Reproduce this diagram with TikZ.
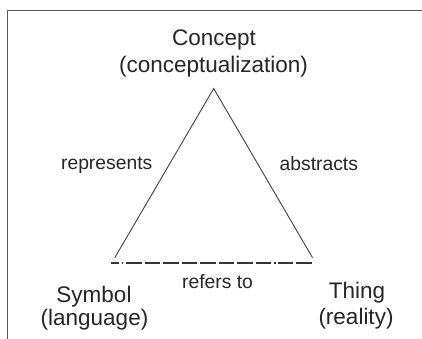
\documentclass[tikz,border=0pt]{standalone}
\usepackage{fontspec}
\setmainfont{Liberation Sans}
\begin{document}
\begin{tikzpicture}[x=1pt,y=-1pt,
  title/.style={inner sep=0pt,anchor=base,text=black!85,font=\fontsize{22.5pt}{27pt}\selectfont},
  lbl/.style={inner sep=0pt,anchor=base,text=black!85,font=\fontsize{19.3pt}{23pt}\selectfont},
  side/.style={draw=black!75,line width=0.9pt},
  base/.style={draw=black!80,line width=1.5pt,
    dash pattern=on 8pt off 2.5pt on 1.5pt off 3pt
      on 15.5pt off 3pt on 15.5pt off 3pt on 15.5pt off 3pt on 15.5pt off 3pt
      on 15.5pt off 3pt on 15.5pt off 3pt on 15.5pt off 3pt on 15.5pt off 3pt
      on 1.5pt off 2pt on 15pt off 3pt on 16pt off 20pt},
  frame/.style={draw=black!65,line width=1pt}]
\useasboundingbox (0,0) rectangle (422,339);
\fill[white] (0,0) rectangle (422,339);
% partial frame
\coordinate (ftl) at (7.5,11);
\coordinate (ftr) at (422,11);
\coordinate (fbl) at (7.5,339);
\draw[frame] (ftr) -- (ftl) -- (fbl);
% triangle
\coordinate (apex) at (213.7,88.5);
\coordinate (bl) at (114.8,257.7);
\coordinate (br) at (312.5,257.7);
\coordinate (dl) at (111,263);
\coordinate (dr) at (313,263);
\draw[side] (bl) -- (apex) -- (br);
\draw[base] (dl) -- (dr);
% texts
\node[title] (concept) at (214,45.3) {Concept};
\node[title] (conceptsub) at (213.5,73) {(conceptualization)};
\node[title] (symbol) at (94,302.5) {Symbol};
\node[title] (symbolsub) at (94.5,325.5) {(language)};
\node[title] (thing) at (357,298.5) {Thing};
\node[title] (thingsub) at (356,324) {(reality)};
\node[lbl] (represents) at (106.7,169) {represents};
\node[lbl] (abstracts) at (318.8,170.5) {abstracts};
\node[lbl] (refersto) at (217.5,288.5) {refers to};
\end{tikzpicture}
\end{document}
